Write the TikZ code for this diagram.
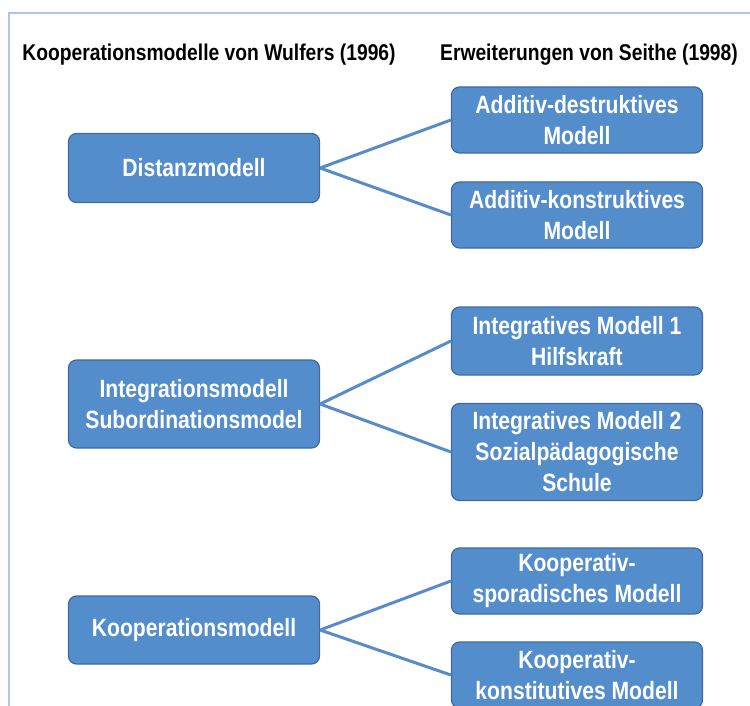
\documentclass[tikz,border=0pt]{standalone}
\usepackage{fontspec}
\setmainfont{Liberation Sans}[FakeStretch=0.845]
\definecolor{boxfill}{RGB}{84,141,203}
\definecolor{boxline}{RGB}{62,106,160}
\definecolor{linkblue}{RGB}{88,140,200}
\definecolor{framecol}{RGB}{175,198,226}

\begin{document}
\begin{tikzpicture}[x=1pt,y=-1pt,
  box/.style={draw=boxline,line width=1.2pt,fill=boxfill,rounded corners=8pt,
    text=white,font=\fontsize{25}{31}\selectfont\bfseries,align=center,
    minimum width=251pt,inner sep=0pt},
  link/.style={draw=linkblue,line width=3pt},
  head/.style={font=\fontsize{22.8}{27}\selectfont\bfseries}]
  \useasboundingbox (0,0) rectangle (750,706);

  % Frame
  \draw[framecol,line width=1.5pt] (9,706) -- (9,13) -- (750,13);

  % Headings
  \node[head] (wulfers) at (209,55) {Kooperationsmodelle von Wulfers (1996)};
  \node[head] (seithe) at (589,55) {Erweiterungen von Seithe (1998)};

  % Models of Wulfers
  \node[box,minimum height=69pt] (distanz) at (194,168) {Distanzmodell};
  \node[box,minimum height=88pt] (integration) at (194,404) {Integrationsmodell\\Subordinationsmodel};
  \node[box,minimum height=68pt] (kooperation) at (194,630) {Kooperationsmodell};

  % Extensions of Seithe
  \node[box,minimum height=66pt] (adddest) at (577,120) {Additiv-destruktives\\Modell};
  \node[box,minimum height=66pt] (addkonst) at (577,215) {Additiv-konstruktives\\Modell};
  \node[box,minimum height=68pt] (integ1) at (577,341) {Integratives Modell 1\\Hilfskraft};
  \node[box,minimum height=97pt] (integ2) at (577,452) {Integratives Modell 2\\Sozialpädagogische\\Schule};
  \node[box,minimum height=66pt] (koopspor) at (577,581) {Kooperativ-\\sporadisches Modell};
  \node[box,minimum height=66pt] (koopkonst) at (577,675) {Kooperativ-\\konstitutives Modell};

  % Connectors
  \draw[link] (distanz.east) -- (adddest.west);
  \draw[link] (distanz.east) -- (addkonst.west);
  \draw[link] (integration.east) -- (integ1.west);
  \draw[link] (integration.east) -- (integ2.west);
  \draw[link] (kooperation.east) -- (koopspor.west);
  \draw[link] (kooperation.east) -- (koopkonst.west);
\end{tikzpicture}
\end{document}
